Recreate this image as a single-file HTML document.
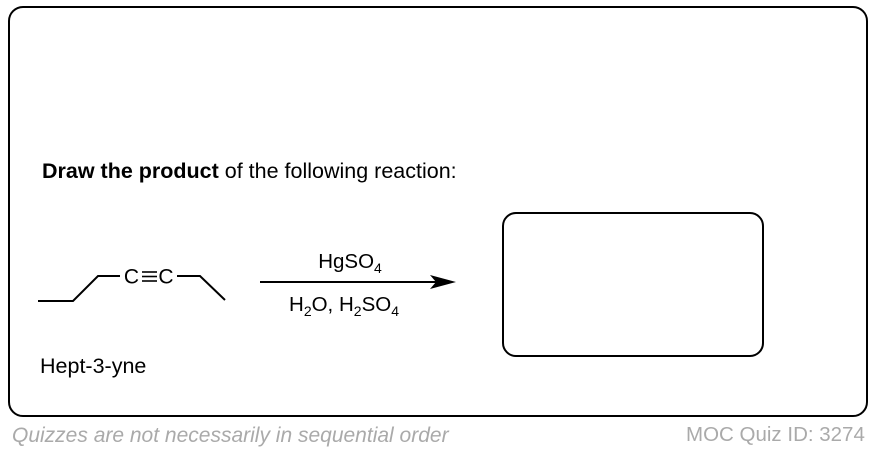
<!DOCTYPE html>
<html><head><style>
body{margin:0;width:878px;height:450px;background:#fff;position:relative;font-family:"Liberation Sans",Arial,sans-serif;overflow:hidden}
.t{position:absolute;white-space:nowrap;line-height:1}
</style></head><body>
<div style="position:absolute;left:8px;top:6px;width:856px;height:407px;border:2px solid #000;border-radius:15px"></div>
<div class="t" style="left:42px;top:161px;font-size:21.5px"><b>Draw the product</b> of the following reaction:</div>
<svg width="878" height="450" style="position:absolute;left:0;top:0" font-family="Liberation Sans">
<polyline points="38,301 73,301 98,276 120,276" fill="none" stroke="#000" stroke-width="2"/>
<polyline points="177,276 200,276 225,300" fill="none" stroke="#000" stroke-width="2"/>
<text x="131.5" y="283.5" font-size="21" text-anchor="middle">C</text>
<text x="166" y="283.5" font-size="21" text-anchor="middle">C</text>
<line x1="142" y1="272" x2="157" y2="272" stroke="#000" stroke-width="1.6"/>
<line x1="142" y1="276.5" x2="157" y2="276.5" stroke="#000" stroke-width="1.6"/>
<line x1="142" y1="281" x2="157" y2="281" stroke="#000" stroke-width="1.6"/>
<line x1="260" y1="282" x2="440" y2="282" stroke="#000" stroke-width="2"/>
<polygon points="456,282 430,275 436,282 430,289" fill="#000"/>
<text x="350" y="268" font-size="20.5" text-anchor="middle">HgSO<tspan font-size="14" dy="5">4</tspan></text>
<text x="344" y="311" font-size="20.5" text-anchor="middle">H<tspan font-size="14" dy="5">2</tspan><tspan dy="-5">O, H</tspan><tspan font-size="14" dy="5">2</tspan><tspan dy="-5">SO</tspan><tspan font-size="14" dy="5">4</tspan></text>
</svg>
<div style="position:absolute;left:502px;top:212px;width:258px;height:141px;border:2px solid #000;border-radius:14px"></div>
<div class="t" style="left:40px;top:356px;font-size:21.5px">Hept-3-yne</div>
<div class="t" style="left:12px;top:425px;font-size:21px;font-style:italic;color:#aaa">Quizzes are not necessarily in sequential order</div>
<div class="t" style="left:686px;top:425px;font-size:20.5px;color:#aaa">MOC Quiz ID: 3274</div>
</body></html>
